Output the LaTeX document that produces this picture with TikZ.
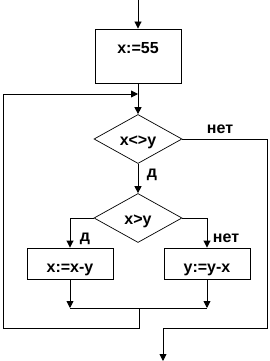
\documentclass[tikz,border=0pt]{standalone}
\usepackage{fontspec}
\setmainfont{Liberation Sans}
\usetikzlibrary{arrows.meta,shapes.geometric}
\begin{document}
\begin{tikzpicture}[x=1pt,y=-1pt,
  line width=0.9pt,
  every node/.style={font=\fontsize{16}{19}\selectfont\bfseries},
  procbox/.style={draw, rectangle, inner sep=0pt},
  decis/.style={draw, diamond, inner sep=0pt, minimum width=88pt, minimum height=49pt, line width=0.7pt},
  lbl/.style={anchor=base, inner sep=0pt},
  arr/.style={-{Triangle[length=7pt,width=7pt]}}
]
\useasboundingbox (0,0) rectangle (270,361);
% nodes
\coordinate (start) at (138,0);
\node[procbox, minimum width=86pt, minimum height=54pt] (b1) at (138,56) {};
\node[lbl] (t1) at (138,53) {x:=55};
\coordinate (join) at (138,94);
\node[decis] (d1) at (138,139) {};
\node[lbl] (t2) at (138,145) {x<>y};
\node[decis] (d2) at (138,218) {};
\node[lbl] (t3) at (138,224) {x>y};
\node[procbox, minimum width=86pt, minimum height=31pt] (b2) at (70,263.5) {};
\node[lbl] (t4) at (70,272) {x:=x-y};
\node[procbox, minimum width=86pt, minimum height=31pt] (b3) at (207,263.5) {};
\node[lbl] (t5) at (207,272) {y:=y-x};
\node[lbl] (l1) at (220,133.5) {нет};
\node[lbl] (l2) at (152,177) {д};
\node[lbl] (l3) at (85,241) {д};
\node[lbl] (l4) at (226,242) {нет};
\coordinate (ml) at (70,308);
\coordinate (mr) at (207,308);
\coordinate (mm) at (139,308);
\coordinate (lb) at (139,328);
\coordinate (ll) at (3,328);
\coordinate (lt) at (3,94);
\coordinate (r1) at (267,139);
\coordinate (r2) at (267,328);
\coordinate (r3) at (163,328);
\coordinate (endp) at (163,361);
% connectors
\draw[arr] (start) -- (b1.north);
\draw[arr] (b1.south) -- (d1.north);
\draw[arr] (d1.south) -- (d2.north);
\draw[arr] (d2.west) -| (b2.north);
\draw[arr] (d2.east) -| (b3.north);
\draw[arr] (b2.south) -- (ml);
\draw[arr] (b3.south) -- (mr);
\draw (ml) -- (mr);
\draw[arr] (mm) -- (lb) -- (ll) -- (lt) -- (join);
\draw[arr] (d1.east) -- (r1) -- (r2) -- (r3) -- (endp);
\end{tikzpicture}
\end{document}
